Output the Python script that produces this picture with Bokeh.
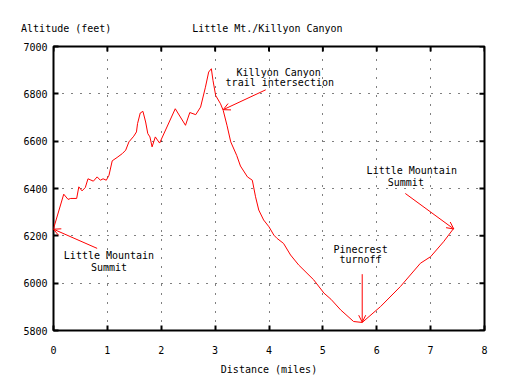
import math
from bokeh.plotting import figure
from bokeh.models import (Range1d, FixedTicker, Arrow, OpenHead, LinearAxis,
                          ColumnDataSource)
from bokeh.embed import file_html
from bokeh.resources import INLINE
from bokeh.core.properties import value

# ---- data ----
dist = [0.00, 0.19, 0.27, 0.32, 0.43, 0.47, 0.53, 0.59, 0.64, 0.74,
        0.81, 0.87, 0.92, 0.98, 1.03, 1.09, 1.18, 1.28, 1.34, 1.40,
        1.49, 1.54, 1.56, 1.61, 1.66, 1.71, 1.75, 1.79, 1.83, 1.89,
        1.94, 1.97, 2.26, 2.45, 2.53, 2.64, 2.73, 2.82, 2.88, 2.93,
        2.96, 3.01, 3.10, 3.15, 3.22, 3.29, 3.40, 3.47, 3.60, 3.69,
        3.75, 3.81, 3.90, 4.00, 4.09, 4.15, 4.27, 4.40, 4.55, 4.83,
        5.02, 5.15, 5.33, 5.57, 5.73, 6.07, 6.44, 6.81, 7.00, 7.24,
        7.43]
alt = [6230, 6376, 6354, 6358, 6358, 6407, 6390, 6404, 6441, 6431,
       6449, 6435, 6441, 6435, 6456, 6517, 6531, 6548, 6562, 6597,
       6621, 6639, 6674, 6719, 6726, 6681, 6632, 6618, 6576, 6618,
       6601, 6592, 6737, 6667, 6721, 6712, 6744, 6828, 6892, 6906,
       6857, 6793, 6758, 6730, 6667, 6597, 6540, 6495, 6449, 6435,
       6365, 6309, 6267, 6238, 6203, 6189, 6168, 6119, 6077, 6014,
       5958, 5932, 5887, 5838, 5834, 5901, 5986, 6084, 6112, 6175,
       6232]

x_ticks = [0, 1, 2, 3, 4, 5, 6, 7, 8]
y_ticks = [5800, 6000, 6200, 6400, 6600, 6800, 7000]

title_text = "Little Mt./Killyon Canyon"
ylabel_text = "Altitude (feet)"
xlabel_text = "Distance (miles)"

# annotation texts and anchor points (data units)
note_text = ["Killyon Canyon", "trail intersection",
             "Little Mountain", "Summit",
             "Little Mountain", "Summit",
             "Pinecrest", "turnoff"]
note_x = [4.18, 4.20, 1.03, 1.03, 6.65, 6.54, 5.70, 5.70]
note_y = [6892, 6847, 6115, 6066, 6474, 6425, 6144, 6098]

arrow_x0 = [3.94, 0.81, 6.53, 5.73]
arrow_y0 = [6817, 6147, 6379, 6038]
arrow_x1 = [3.15, 0.00, 7.43, 5.73]
arrow_y1 = [6733, 6228, 6229, 5835]

# horizontal centres (in miles) of the two header texts above the frame
YCAP_AT = 0.236
TITLE_AT = 3.97

FONT = "DejaVu Sans Mono"
X0, X1 = x_ticks[0], x_ticks[-1]
Y0, Y1 = y_ticks[0], y_ticks[-1]

p = figure(width=517, height=377, output_backend="svg", toolbar_location=None,
           x_range=Range1d(X0, X1), y_range=Range1d(Y0, Y1),
           min_border_left=53, min_border_right=33,
           min_border_top=46, min_border_bottom=46,
           background_fill_color="white", border_fill_color="white")
p.title.text = ""

p.outline_line_color = "black"
p.outline_line_width = 2

xb = p.below[0]   # bottom x axis
yl = p.left[0]    # left y axis

# bottom / left axes
for ax in (xb, yl):
    ax.axis_line_color = None
    ax.major_tick_in = 5
    ax.major_tick_out = 0
    ax.major_tick_line_width = 2
    ax.major_tick_line_color = "black"
    ax.minor_tick_line_color = None
    ax.major_label_text_font = FONT
    ax.major_label_text_font_size = "10px"
    ax.major_label_text_color = "black"

xb.ticker = FixedTicker(ticks=x_ticks)
yl.ticker = FixedTicker(ticks=y_ticks)
xb.major_label_standoff = 15
yl.major_label_standoff = 6
xb.axis_label = xlabel_text
xb.axis_label_text_font = FONT
xb.axis_label_text_font_size = "10px"
xb.axis_label_text_font_style = "normal"
xb.axis_label_text_color = "black"
xb.axis_label_standoff = 7

# header line above the frame: y caption (left) and chart title (centre),
# both on one line as labels of a tick-less top axis
top = LinearAxis(ticker=FixedTicker(ticks=[YCAP_AT, TITLE_AT]),
                 major_label_overrides={YCAP_AT: ylabel_text, TITLE_AT: title_text})
top.axis_line_color = None
top.major_tick_in = 0
top.major_tick_out = 0
top.major_tick_line_color = None
top.minor_tick_line_color = None
top.major_label_standoff = 13
top.major_label_text_font = FONT
top.major_label_text_font_size = "10px"
top.major_label_text_color = "black"
p.add_layout(top, "above")

# mirrored inward ticks on top and right (half of each dash is clipped by the frame)
p.scatter(x=x_ticks, y=[Y1] * len(x_ticks), marker="dash", size=10,
          angle=math.pi / 2, line_color="black", line_width=2)
p.scatter(x=[X1] * len(y_ticks), y=y_ticks, marker="dash", size=10,
          line_color="black", line_width=2)

# grid
p.xgrid.ticker = FixedTicker(ticks=x_ticks[1:-1])
p.ygrid.ticker = FixedTicker(ticks=y_ticks[1:-1])
for g in (p.xgrid, p.ygrid):
    g.grid_line_color = "black"
    g.grid_line_dash = "1 8"
    g.grid_line_width = 1
    g.grid_line_alpha = 1.0

# profile line
p.line(dist, alt, line_color="#ff0000", line_width=1)

# annotation texts
p.text(x=note_x, y=note_y, text=note_text, text_font=value(FONT),
       text_font_size="10px", text_align="center", text_baseline="middle",
       text_color="black")

# arrows
asrc = ColumnDataSource(dict(x0=arrow_x0, y0=arrow_y0, x1=arrow_x1, y1=arrow_y1))
p.add_layout(Arrow(end=OpenHead(size=7, line_color="#ff0000", line_width=1),
                   x_start="x0", y_start="y0", x_end="x1", y_end="y1",
                   source=asrc, line_color="#ff0000", line_width=1))

open("out.html", "w").write(file_html(p, INLINE))
